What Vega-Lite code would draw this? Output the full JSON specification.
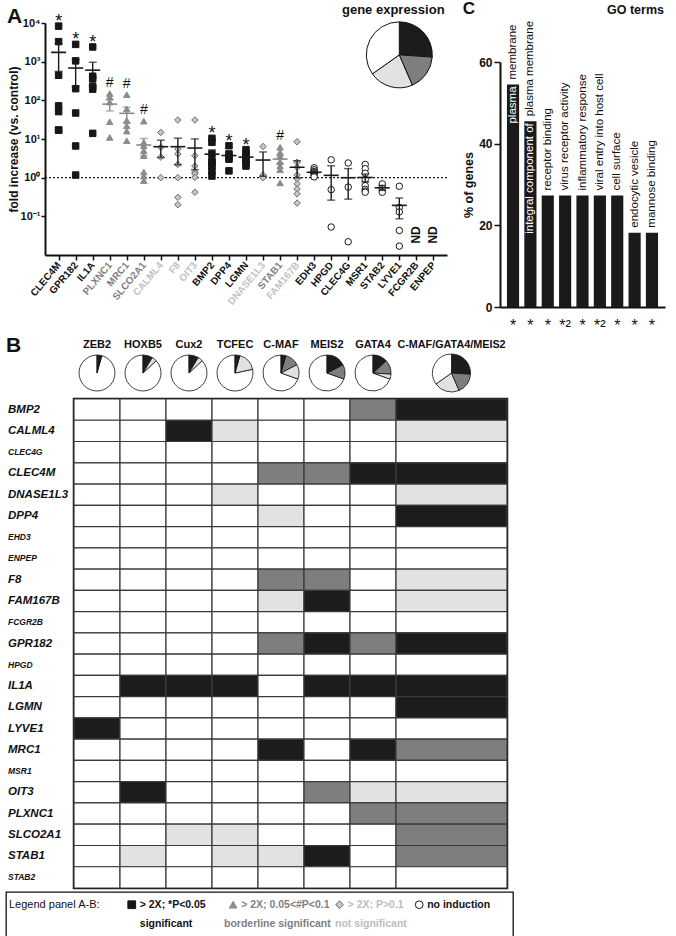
{
"$schema": "https://vega.github.io/schema/vega-lite/v6.json",
"padding": {"left": 5, "top": 0, "right": 2, "bottom": 0},
"background": "white",
"config": {"view": {"stroke": null}, "font": "Liberation Sans", "legend": {"disable": true},
  "axis": {"grid": false, "domainColor": "#111", "tickColor": "#111", "labelColor": "#111", "titleColor": "#111", "labelFont": "Liberation Sans", "titleFont": "Liberation Sans"}},
"resolve": {"scale": {"color": "independent", "fill": "independent", "stroke": "independent", "shape": "independent", "theta": "independent", "size": "independent"}},
"datasets": {
 "pts": [
  {"g":"CLEC4M","c":"sig","v":8300},{"g":"CLEC4M","c":"sig","v":3300},{"g":"CLEC4M","c":"sig","v":445},{"g":"CLEC4M","c":"sig","v":72},{"g":"CLEC4M","c":"sig","v":51},{"g":"CLEC4M","c":"sig","v":17},{"g":"CLEC4M","c":"sig","v":17},
  {"g":"GPR182","c":"sig","v":2800},{"g":"GPR182","c":"sig","v":1050},{"g":"GPR182","c":"sig","v":200},{"g":"GPR182","c":"sig","v":47},{"g":"GPR182","c":"sig","v":6.6},{"g":"GPR182","c":"sig","v":1.17},
  {"g":"IL1A","c":"sig","v":2400},{"g":"IL1A","c":"sig","v":420},{"g":"IL1A","c":"sig","v":360},{"g":"IL1A","c":"sig","v":230},{"g":"IL1A","c":"sig","v":195},{"g":"IL1A","c":"sig","v":14},
  {"g":"PLXNC1","c":"bord","v":150},{"g":"PLXNC1","c":"bord","v":120},{"g":"PLXNC1","c":"bord","v":90},{"g":"PLXNC1","c":"bord","v":28},{"g":"PLXNC1","c":"bord","v":11},
  {"g":"MRC1","c":"bord","v":140},{"g":"MRC1","c":"bord","v":60},{"g":"MRC1","c":"bord","v":30},{"g":"MRC1","c":"bord","v":22},{"g":"MRC1","c":"bord","v":16},{"g":"MRC1","c":"bord","v":9},
  {"g":"SLCO2A1","c":"bord","v":29},{"g":"SLCO2A1","c":"bord","v":8.2},{"g":"SLCO2A1","c":"bord","v":6.7},{"g":"SLCO2A1","c":"bord","v":5},{"g":"SLCO2A1","c":"bord","v":3.7},{"g":"SLCO2A1","c":"bord","v":1.4},{"g":"SLCO2A1","c":"bord","v":1.1},{"g":"SLCO2A1","c":"bord","v":0.84},
  {"g":"CALML4","c":"ns","v":14.8},{"g":"CALML4","c":"ns","v":6.1},{"g":"CALML4","c":"ns","v":3.4},{"g":"CALML4","c":"ns","v":1.0},
  {"g":"F8","c":"ns","v":31},{"g":"F8","c":"ns","v":5.5},{"g":"F8","c":"ns","v":4.1},{"g":"F8","c":"ns","v":2.2},{"g":"F8","c":"ns","v":1.0},{"g":"F8","c":"ns","v":0.31},{"g":"F8","c":"ns","v":0.2},
  {"g":"OIT3","c":"ns","v":31},{"g":"OIT3","c":"ns","v":3.7},{"g":"OIT3","c":"ns","v":2.0},{"g":"OIT3","c":"ns","v":1.4},{"g":"OIT3","c":"ns","v":1.25},{"g":"OIT3","c":"ns","v":1.02},{"g":"OIT3","c":"ns","v":0.42},
  {"g":"BMP2","c":"sig","v":10.4},{"g":"BMP2","c":"sig","v":8.2},{"g":"BMP2","c":"sig","v":4.1},{"g":"BMP2","c":"sig","v":2.7},{"g":"BMP2","c":"sig","v":2.4},{"g":"BMP2","c":"sig","v":2.0},{"g":"BMP2","c":"sig","v":1.5},{"g":"BMP2","c":"sig","v":1.1},
  {"g":"DPP4","c":"sig","v":6.7},{"g":"DPP4","c":"sig","v":4.1},{"g":"DPP4","c":"sig","v":3.4},{"g":"DPP4","c":"sig","v":3.0},{"g":"DPP4","c":"sig","v":1.5},
  {"g":"LGMN","c":"sig","v":5.3},{"g":"LGMN","c":"sig","v":4.1},{"g":"LGMN","c":"sig","v":3.6},{"g":"LGMN","c":"sig","v":3.0},{"g":"LGMN","c":"sig","v":2.4},{"g":"LGMN","c":"sig","v":2.0},
  {"g":"DNASE1L3","c":"ns","v":6.4},{"g":"DNASE1L3","c":"ns","v":1.17},{"g":"DNASE1L3","c":"ns","v":1.0},
  {"g":"STAB1","c":"bord","v":6.1},{"g":"STAB1","c":"bord","v":4.5},{"g":"STAB1","c":"bord","v":3.6},{"g":"STAB1","c":"bord","v":2.6},{"g":"STAB1","c":"bord","v":2.0},{"g":"STAB1","c":"bord","v":1.6},{"g":"STAB1","c":"bord","v":0.73},
  {"g":"FAM167B","c":"ns","v":8.5},{"g":"FAM167B","c":"ns","v":2.5},{"g":"FAM167B","c":"ns","v":1.85},{"g":"FAM167B","c":"ns","v":1.17},{"g":"FAM167B","c":"ns","v":0.93},{"g":"FAM167B","c":"ns","v":0.69},{"g":"FAM167B","c":"ns","v":0.51},{"g":"FAM167B","c":"ns","v":0.38},{"g":"FAM167B","c":"ns","v":0.22},
  {"g":"EDH3","c":"no","v":1.8},{"g":"EDH3","c":"no","v":1.6},{"g":"EDH3","c":"no","v":1.45},{"g":"EDH3","c":"no","v":1.35},{"g":"EDH3","c":"no","v":1.25},{"g":"EDH3","c":"no","v":1.15},{"g":"EDH3","c":"no","v":1.05},
  {"g":"HPGD","c":"no","v":2.9},{"g":"HPGD","c":"no","v":0.49},{"g":"HPGD","c":"no","v":0.053},
  {"g":"CLEC4G","c":"no","v":2.4},{"g":"CLEC4G","c":"no","v":0.57},{"g":"CLEC4G","c":"no","v":0.022},
  {"g":"MSR1","c":"no","v":2.2},{"g":"MSR1","c":"no","v":1.7},{"g":"MSR1","c":"no","v":1.3},{"g":"MSR1","c":"no","v":0.9},{"g":"MSR1","c":"no","v":0.62},{"g":"MSR1","c":"no","v":0.5},{"g":"MSR1","c":"no","v":0.45},{"g":"MSR1","c":"no","v":0.42},
  {"g":"STAB2","c":"no","v":0.69},{"g":"STAB2","c":"no","v":0.53},{"g":"STAB2","c":"no","v":0.42},
  {"g":"LYVE1","c":"no","v":0.6},{"g":"LYVE1","c":"no","v":0.17},{"g":"LYVE1","c":"no","v":0.13},{"g":"LYVE1","c":"no","v":0.043},{"g":"LYVE1","c":"no","v":0.017}
 ],
 "cells": [
  {"g":"BMP2","t":"ZEB2","k":"no"},{"g":"BMP2","t":"HOXB5","k":"no"},{"g":"BMP2","t":"Cux2","k":"no"},{"g":"BMP2","t":"TCFEC","k":"no"},{"g":"BMP2","t":"C-MAF","k":"no"},{"g":"BMP2","t":"MEIS2","k":"no"},{"g":"BMP2","t":"GATA4","k":"bord"},{"g":"BMP2","t":"C-MAF/GATA4/MEIS2","k":"sig"},
  {"g":"CALML4","t":"ZEB2","k":"no"},{"g":"CALML4","t":"HOXB5","k":"no"},{"g":"CALML4","t":"Cux2","k":"sig"},{"g":"CALML4","t":"TCFEC","k":"ns"},{"g":"CALML4","t":"C-MAF","k":"no"},{"g":"CALML4","t":"MEIS2","k":"no"},{"g":"CALML4","t":"GATA4","k":"no"},{"g":"CALML4","t":"C-MAF/GATA4/MEIS2","k":"ns"},
  {"g":"CLEC4G","t":"ZEB2","k":"no"},{"g":"CLEC4G","t":"HOXB5","k":"no"},{"g":"CLEC4G","t":"Cux2","k":"no"},{"g":"CLEC4G","t":"TCFEC","k":"no"},{"g":"CLEC4G","t":"C-MAF","k":"no"},{"g":"CLEC4G","t":"MEIS2","k":"no"},{"g":"CLEC4G","t":"GATA4","k":"no"},{"g":"CLEC4G","t":"C-MAF/GATA4/MEIS2","k":"no"},
  {"g":"CLEC4M","t":"ZEB2","k":"no"},{"g":"CLEC4M","t":"HOXB5","k":"no"},{"g":"CLEC4M","t":"Cux2","k":"no"},{"g":"CLEC4M","t":"TCFEC","k":"no"},{"g":"CLEC4M","t":"C-MAF","k":"bord"},{"g":"CLEC4M","t":"MEIS2","k":"bord"},{"g":"CLEC4M","t":"GATA4","k":"sig"},{"g":"CLEC4M","t":"C-MAF/GATA4/MEIS2","k":"sig"},
  {"g":"DNASE1L3","t":"ZEB2","k":"no"},{"g":"DNASE1L3","t":"HOXB5","k":"no"},{"g":"DNASE1L3","t":"Cux2","k":"no"},{"g":"DNASE1L3","t":"TCFEC","k":"ns"},{"g":"DNASE1L3","t":"C-MAF","k":"no"},{"g":"DNASE1L3","t":"MEIS2","k":"no"},{"g":"DNASE1L3","t":"GATA4","k":"no"},{"g":"DNASE1L3","t":"C-MAF/GATA4/MEIS2","k":"ns"},
  {"g":"DPP4","t":"ZEB2","k":"no"},{"g":"DPP4","t":"HOXB5","k":"no"},{"g":"DPP4","t":"Cux2","k":"no"},{"g":"DPP4","t":"TCFEC","k":"no"},{"g":"DPP4","t":"C-MAF","k":"ns"},{"g":"DPP4","t":"MEIS2","k":"no"},{"g":"DPP4","t":"GATA4","k":"no"},{"g":"DPP4","t":"C-MAF/GATA4/MEIS2","k":"sig"},
  {"g":"EHD3","t":"ZEB2","k":"no"},{"g":"EHD3","t":"HOXB5","k":"no"},{"g":"EHD3","t":"Cux2","k":"no"},{"g":"EHD3","t":"TCFEC","k":"no"},{"g":"EHD3","t":"C-MAF","k":"no"},{"g":"EHD3","t":"MEIS2","k":"no"},{"g":"EHD3","t":"GATA4","k":"no"},{"g":"EHD3","t":"C-MAF/GATA4/MEIS2","k":"no"},
  {"g":"ENPEP","t":"ZEB2","k":"no"},{"g":"ENPEP","t":"HOXB5","k":"no"},{"g":"ENPEP","t":"Cux2","k":"no"},{"g":"ENPEP","t":"TCFEC","k":"no"},{"g":"ENPEP","t":"C-MAF","k":"no"},{"g":"ENPEP","t":"MEIS2","k":"no"},{"g":"ENPEP","t":"GATA4","k":"no"},{"g":"ENPEP","t":"C-MAF/GATA4/MEIS2","k":"no"},
  {"g":"F8","t":"ZEB2","k":"no"},{"g":"F8","t":"HOXB5","k":"no"},{"g":"F8","t":"Cux2","k":"no"},{"g":"F8","t":"TCFEC","k":"no"},{"g":"F8","t":"C-MAF","k":"bord"},{"g":"F8","t":"MEIS2","k":"bord"},{"g":"F8","t":"GATA4","k":"no"},{"g":"F8","t":"C-MAF/GATA4/MEIS2","k":"ns"},
  {"g":"FAM167B","t":"ZEB2","k":"no"},{"g":"FAM167B","t":"HOXB5","k":"no"},{"g":"FAM167B","t":"Cux2","k":"no"},{"g":"FAM167B","t":"TCFEC","k":"no"},{"g":"FAM167B","t":"C-MAF","k":"ns"},{"g":"FAM167B","t":"MEIS2","k":"sig"},{"g":"FAM167B","t":"GATA4","k":"no"},{"g":"FAM167B","t":"C-MAF/GATA4/MEIS2","k":"ns"},
  {"g":"FCGR2B","t":"ZEB2","k":"no"},{"g":"FCGR2B","t":"HOXB5","k":"no"},{"g":"FCGR2B","t":"Cux2","k":"no"},{"g":"FCGR2B","t":"TCFEC","k":"no"},{"g":"FCGR2B","t":"C-MAF","k":"no"},{"g":"FCGR2B","t":"MEIS2","k":"no"},{"g":"FCGR2B","t":"GATA4","k":"no"},{"g":"FCGR2B","t":"C-MAF/GATA4/MEIS2","k":"no"},
  {"g":"GPR182","t":"ZEB2","k":"no"},{"g":"GPR182","t":"HOXB5","k":"no"},{"g":"GPR182","t":"Cux2","k":"no"},{"g":"GPR182","t":"TCFEC","k":"no"},{"g":"GPR182","t":"C-MAF","k":"bord"},{"g":"GPR182","t":"MEIS2","k":"sig"},{"g":"GPR182","t":"GATA4","k":"bord"},{"g":"GPR182","t":"C-MAF/GATA4/MEIS2","k":"sig"},
  {"g":"HPGD","t":"ZEB2","k":"no"},{"g":"HPGD","t":"HOXB5","k":"no"},{"g":"HPGD","t":"Cux2","k":"no"},{"g":"HPGD","t":"TCFEC","k":"no"},{"g":"HPGD","t":"C-MAF","k":"no"},{"g":"HPGD","t":"MEIS2","k":"no"},{"g":"HPGD","t":"GATA4","k":"no"},{"g":"HPGD","t":"C-MAF/GATA4/MEIS2","k":"no"},
  {"g":"IL1A","t":"ZEB2","k":"no"},{"g":"IL1A","t":"HOXB5","k":"sig"},{"g":"IL1A","t":"Cux2","k":"sig"},{"g":"IL1A","t":"TCFEC","k":"sig"},{"g":"IL1A","t":"C-MAF","k":"no"},{"g":"IL1A","t":"MEIS2","k":"sig"},{"g":"IL1A","t":"GATA4","k":"sig"},{"g":"IL1A","t":"C-MAF/GATA4/MEIS2","k":"sig"},
  {"g":"LGMN","t":"ZEB2","k":"no"},{"g":"LGMN","t":"HOXB5","k":"no"},{"g":"LGMN","t":"Cux2","k":"no"},{"g":"LGMN","t":"TCFEC","k":"no"},{"g":"LGMN","t":"C-MAF","k":"no"},{"g":"LGMN","t":"MEIS2","k":"no"},{"g":"LGMN","t":"GATA4","k":"no"},{"g":"LGMN","t":"C-MAF/GATA4/MEIS2","k":"sig"},
  {"g":"LYVE1","t":"ZEB2","k":"sig"},{"g":"LYVE1","t":"HOXB5","k":"no"},{"g":"LYVE1","t":"Cux2","k":"no"},{"g":"LYVE1","t":"TCFEC","k":"no"},{"g":"LYVE1","t":"C-MAF","k":"no"},{"g":"LYVE1","t":"MEIS2","k":"no"},{"g":"LYVE1","t":"GATA4","k":"no"},{"g":"LYVE1","t":"C-MAF/GATA4/MEIS2","k":"no"},
  {"g":"MRC1","t":"ZEB2","k":"no"},{"g":"MRC1","t":"HOXB5","k":"no"},{"g":"MRC1","t":"Cux2","k":"no"},{"g":"MRC1","t":"TCFEC","k":"no"},{"g":"MRC1","t":"C-MAF","k":"sig"},{"g":"MRC1","t":"MEIS2","k":"no"},{"g":"MRC1","t":"GATA4","k":"sig"},{"g":"MRC1","t":"C-MAF/GATA4/MEIS2","k":"bord"},
  {"g":"MSR1","t":"ZEB2","k":"no"},{"g":"MSR1","t":"HOXB5","k":"no"},{"g":"MSR1","t":"Cux2","k":"no"},{"g":"MSR1","t":"TCFEC","k":"no"},{"g":"MSR1","t":"C-MAF","k":"no"},{"g":"MSR1","t":"MEIS2","k":"no"},{"g":"MSR1","t":"GATA4","k":"no"},{"g":"MSR1","t":"C-MAF/GATA4/MEIS2","k":"no"},
  {"g":"OIT3","t":"ZEB2","k":"no"},{"g":"OIT3","t":"HOXB5","k":"sig"},{"g":"OIT3","t":"Cux2","k":"no"},{"g":"OIT3","t":"TCFEC","k":"no"},{"g":"OIT3","t":"C-MAF","k":"no"},{"g":"OIT3","t":"MEIS2","k":"bord"},{"g":"OIT3","t":"GATA4","k":"ns"},{"g":"OIT3","t":"C-MAF/GATA4/MEIS2","k":"ns"},
  {"g":"PLXNC1","t":"ZEB2","k":"no"},{"g":"PLXNC1","t":"HOXB5","k":"no"},{"g":"PLXNC1","t":"Cux2","k":"no"},{"g":"PLXNC1","t":"TCFEC","k":"no"},{"g":"PLXNC1","t":"C-MAF","k":"no"},{"g":"PLXNC1","t":"MEIS2","k":"no"},{"g":"PLXNC1","t":"GATA4","k":"bord"},{"g":"PLXNC1","t":"C-MAF/GATA4/MEIS2","k":"bord"},
  {"g":"SLCO2A1","t":"ZEB2","k":"no"},{"g":"SLCO2A1","t":"HOXB5","k":"no"},{"g":"SLCO2A1","t":"Cux2","k":"ns"},{"g":"SLCO2A1","t":"TCFEC","k":"ns"},{"g":"SLCO2A1","t":"C-MAF","k":"no"},{"g":"SLCO2A1","t":"MEIS2","k":"no"},{"g":"SLCO2A1","t":"GATA4","k":"no"},{"g":"SLCO2A1","t":"C-MAF/GATA4/MEIS2","k":"bord"},
  {"g":"STAB1","t":"ZEB2","k":"no"},{"g":"STAB1","t":"HOXB5","k":"ns"},{"g":"STAB1","t":"Cux2","k":"no"},{"g":"STAB1","t":"TCFEC","k":"ns"},{"g":"STAB1","t":"C-MAF","k":"ns"},{"g":"STAB1","t":"MEIS2","k":"sig"},{"g":"STAB1","t":"GATA4","k":"no"},{"g":"STAB1","t":"C-MAF/GATA4/MEIS2","k":"bord"},
  {"g":"STAB2","t":"ZEB2","k":"no"},{"g":"STAB2","t":"HOXB5","k":"no"},{"g":"STAB2","t":"Cux2","k":"no"},{"g":"STAB2","t":"TCFEC","k":"no"},{"g":"STAB2","t":"C-MAF","k":"no"},{"g":"STAB2","t":"MEIS2","k":"no"},{"g":"STAB2","t":"GATA4","k":"no"},{"g":"STAB2","t":"C-MAF/GATA4/MEIS2","k":"no"}
 ],
 "go": [
  {"term":"plasma membrane","pct":54.5,"outer":"membrane","inner":"plasma"},
  {"term":"integral component of plasma membrane","pct":45.5,"outer":"plasma membrane","inner":"integral component of"},
  {"term":"receptor binding","pct":27.3,"outer":"receptor binding","inner":""},
  {"term":"virus receptor activity","pct":27.3,"outer":"virus receptor activity","inner":""},
  {"term":"inflammatory response","pct":27.3,"outer":"inflammatory response","inner":""},
  {"term":"viral entry into host cell","pct":27.3,"outer":"viral entry into host cell","inner":""},
  {"term":"cell surface","pct":27.3,"outer":"cell surface","inner":""},
  {"term":"endocytic vesicle","pct":18.2,"outer":"endocytic vesicle","inner":""},
  {"term":"mannose binding","pct":18.2,"outer":"mannose binding","inner":""}
 ],
 "leg": [
  {"c":"title","line":1,"txt":"Legend panel A-B:"},
  {"c":"sig","line":1,"txt":"> 2X; *P<0.05"},{"c":"sig","line":2,"txt":"significant"},
  {"c":"bord","line":1,"txt":"> 2X; 0.05<#P<0.1"},{"c":"bord","line":2,"txt":"borderline significant"},
  {"c":"ns","line":1,"txt":"> 2X; P>0.1"},{"c":"ns","line":2,"txt":"not significant"},
  {"c":"no","line":1,"txt":"no induction"}
 ]
},
"concat": [
 {
  "spacing": 0,
  "hconcat": [
   {"width": 1, "height": 1, "data": {"values": []}, "mark": {"type": "point", "opacity": 0}},
   {
    "spacing": 14,
    "hconcat": [
     {
      "width": 402, "height": 232,
      "title": {"text": "A", "anchor": "start", "frame": "bounds", "fontSize": 21, "fontWeight": "bold", "offset": -23, "color": "#111"},
      "layer": [
       {"data": {"values": [{}]}, "mark": {"type": "rule", "strokeDash": [2, 2], "strokeWidth": 1.2, "color": "#111"}, "encoding": {"y": {"datum": 1}}},
       {
        "data": {"name": "pts"},
        "encoding": {
         "x": {"field": "g", "type": "nominal",
          "scale": {"type": "point", "padding": 0.8, "domain": ["CLEC4M","GPR182","IL1A","PLXNC1","MRC1","SLCO2A1","CALML4","F8","OIT3","BMP2","DPP4","LGMN","DNASE1L3","STAB1","FAM167B","EDH3","HPGD","CLEC4G","MSR1","STAB2","LYVE1","FCGR2B","ENPEP"]},
          "axis": {"title": null, "labelAngle": -50, "labelAlign": "right", "labelBaseline": "middle", "labelFontSize": 10, "labelFontWeight": "bold", "labelPadding": 3, "tickSize": 5, "tickWidth": 1.5, "domainWidth": 2,
           "labelColor": {"condition": [{"test": "indexof(['PLXNC1','MRC1','SLCO2A1','STAB1'], datum.value) >= 0", "value": "#7f7f7f"}, {"test": "indexof(['CALML4','F8','OIT3','DNASE1L3','FAM167B'], datum.value) >= 0", "value": "#c2c2c2"}], "value": "#111"}}},
         "y": {"field": "v", "type": "quantitative",
          "scale": {"type": "log", "domain": [0.01, 10000], "nice": false},
          "axis": {"title": "fold increase (vs. control)", "titleFontSize": 12, "titleFontWeight": "bold", "titlePadding": 0, "values": [0.1, 1, 10, 100, 1000, 10000],
           "labelExpr": "datum.value >= 9999 ? '10⁴' : datum.value >= 999 ? '10³' : datum.value >= 99 ? '10²' : datum.value >= 9 ? '10¹' : datum.value >= 0.9 ? '10⁰' : '10⁻¹'",
           "labelFontSize": 11, "labelFontWeight": "bold", "tickSize": 4, "tickWidth": 1.5, "domainWidth": 2, "labelPadding": 1}}
        },
        "layer": [
         {"mark": {"type": "point", "filled": true, "size": 42, "strokeWidth": 1, "opacity": 1},
          "encoding": {
           "shape": {"field": "c", "type": "nominal", "scale": {"domain": ["sig","bord","ns","no"], "range": ["square","triangle-up","diamond","circle"]}},
           "fill": {"field": "c", "type": "nominal", "scale": {"domain": ["sig","bord","ns","no"], "range": ["#161616","#8c8c8c","#c6c6c6","#ffffff"]}},
           "stroke": {"field": "c", "type": "nominal", "scale": {"domain": ["sig","bord","ns","no"], "range": ["#161616","#8c8c8c","#6a6a6a","#1a1a1a"]}}}},
         {"transform": [{"filter": "datum.c != 'bord'"}], "mark": {"type": "errorbar", "extent": "stderr", "ticks": true, "size": 8, "thickness": 1.4, "color": "#1a1a1a"}},
         {"transform": [{"filter": "datum.c == 'bord'"}], "mark": {"type": "errorbar", "extent": "stderr", "ticks": true, "size": 8, "thickness": 1.4, "color": "#8c8c8c"}},
         {"transform": [{"filter": "datum.c != 'bord'"}], "mark": {"type": "tick", "size": 15, "thickness": 1.6, "color": "#1a1a1a"},
          "encoding": {"y": {"aggregate": "mean", "field": "v", "type": "quantitative", "scale": {"type": "log", "domain": [0.01, 10000], "nice": false}}}},
         {"transform": [{"filter": "datum.c == 'bord'"}], "mark": {"type": "tick", "size": 15, "thickness": 1.6, "color": "#8c8c8c"},
          "encoding": {"y": {"aggregate": "mean", "field": "v", "type": "quantitative", "scale": {"type": "log", "domain": [0.01, 10000], "nice": false}}}},
         {"transform": [{"filter": "datum.c == 'sig'"}, {"aggregate": [{"op": "max", "field": "v", "as": "mx"}], "groupby": ["g"]}],
          "mark": {"type": "text", "text": "*", "fontSize": 18, "baseline": "alphabetic", "dy": 1, "color": "#111"},
          "encoding": {"y": {"field": "mx", "type": "quantitative", "scale": {"type": "log", "domain": [0.01, 10000], "nice": false}}}},
         {"transform": [{"filter": "datum.c == 'bord'"}, {"aggregate": [{"op": "max", "field": "v", "as": "mx"}], "groupby": ["g"]}],
          "mark": {"type": "text", "text": "#", "fontSize": 14, "baseline": "alphabetic", "dy": -7, "color": "#111"},
          "encoding": {"y": {"field": "mx", "type": "quantitative", "scale": {"type": "log", "domain": [0.01, 10000], "nice": false}}}}
        ]
       },
       {"data": {"values": [{"g": "FCGR2B", "note": "ND"}, {"g": "ENPEP", "note": "ND"}]},
        "mark": {"type": "text", "angle": 270, "fontWeight": "bold", "fontSize": 12, "baseline": "middle", "color": "#111"},
        "encoding": {"x": {"field": "g", "type": "nominal"}, "y": {"datum": 0.033}, "text": {"field": "note"}}},
       {"data": {"name": "cells"},
        "transform": [{"filter": "datum.t == 'C-MAF/GATA4/MEIS2'"}, {"aggregate": [{"op": "count", "as": "n"}], "groupby": ["k"]}, {"calculate": "indexof(['sig','bord','ns','no'], datum.k)", "as": "ord"}, {"stack": "n", "groupby": [], "offset": "normalize", "sort": [{"field": "ord", "order": "ascending"}], "as": ["t0", "t1"]}],
        "mark": {"type": "arc", "outerRadius": 33, "stroke": "#111", "strokeWidth": 1},
        "encoding": {"x": {"datum": "LYVE1"}, "y": {"datum": 1500, "stack": null},
         "theta": {"field": "t0", "type": "quantitative", "scale": {"domain": [0, 1]}}, "theta2": {"field": "t1"},
         "color": {"field": "k", "type": "nominal", "scale": {"domain": ["sig","bord","ns","no"], "range": ["#1c1c1c","#7d7e80","#e1e2e3","#ffffff"]}}}},
       {"data": {"values": [{"label": "gene expression"}]},
        "mark": {"type": "text", "fontWeight": "bold", "fontSize": 13, "baseline": "middle", "dx": 11, "color": "#111"},
        "encoding": {"x": {"datum": "STAB2"}, "y": {"datum": 22000}, "text": {"field": "label"}}}
      ]
     },
     {
      "width": 165, "height": 284,
      "title": {"text": "C", "anchor": "start", "frame": "bounds", "fontSize": 17, "fontWeight": "bold", "offset": -14, "color": "#111"},
      "layer": [
       {"data": {"name": "go"},
        "encoding": {
         "x": {"field": "term", "type": "nominal", "sort": null, "scale": {"paddingInner": 0.3, "paddingOuter": 0.4},
          "axis": {"title": null, "ticks": false, "labelAngle": 0, "labelFontSize": 16, "labelBaseline": "top", "labelPadding": 10, "domainWidth": 2,
           "labelExpr": "datum.value == 'virus receptor activity' || datum.value == 'viral entry into host cell' ? '*²' : '*'"}},
         "y": {"field": "pct", "type": "quantitative", "scale": {"domain": [0, 60], "range": [284, 39], "nice": false},
          "axis": {"title": "% of genes", "values": [0, 20, 40, 60], "titleFontSize": 12.5, "titleFontWeight": "bold", "titlePadding": 3, "labelFontSize": 12, "labelFontWeight": "bold", "tickSize": 6, "tickWidth": 1.5, "domainWidth": 2, "labelPadding": 2}}
        },
        "layer": [
         {"mark": {"type": "bar", "color": "#1a1a1a"}},
         {"mark": {"type": "text", "angle": 270, "align": "left", "baseline": "middle", "dx": 5, "fontSize": 11.5, "color": "#111"}, "encoding": {"text": {"field": "outer"}}},
         {"mark": {"type": "text", "angle": 270, "align": "right", "baseline": "middle", "dx": -2, "fontSize": 11.5, "color": "#ffffff"}, "encoding": {"text": {"field": "inner"}}}
        ]
       },
       {"data": {"values": [{"label": "GO terms"}]},
        "mark": {"type": "text", "align": "right", "baseline": "middle", "fontWeight": "bold", "fontSize": 12.5, "dx": 12, "color": "#111"},
        "encoding": {"x": {"datum": "mannose binding"}, "y": {"datum": 72.7}, "text": {"field": "label"}}}
      ]
     }
    ]
   }
  ]
 },
 {
  "spacing": 1,
  "vconcat": [
   {
    "spacing": 0,
    "bounds": "flush",
    "hconcat": [
     {"width": 68, "height": 46, "data": {"values": []}, "mark": {"type": "point", "opacity": 0},
      "title": {"text": "B", "anchor": "start", "fontSize": 21, "fontWeight": "bold", "offset": -5.5, "color": "#111"}},
     {"width": 46, "height": 46, "data": {"name": "cells"}, "title": {"text": "ZEB2", "fontSize": 11, "fontWeight": "bold", "offset": 0, "color": "#111"},
      "transform": [{"filter": "datum.t == 'ZEB2'"}, {"calculate": "indexof(['sig','bord','ns','no'], datum.k)", "as": "ord"}],
      "mark": {"type": "arc", "outerRadius": 18, "stroke": "#111", "strokeWidth": 0.8},
      "encoding": {"theta": {"aggregate": "count", "type": "quantitative"}, "order": {"field": "ord", "type": "quantitative"}, "color": {"field": "k", "type": "nominal", "scale": {"domain": ["sig","bord","ns","no"], "range": ["#1c1c1c","#7d7e80","#e1e2e3","#ffffff"]}}}},
     {"width": 46, "height": 46, "data": {"name": "cells"}, "title": {"text": "HOXB5", "fontSize": 11, "fontWeight": "bold", "offset": 0, "color": "#111"},
      "transform": [{"filter": "datum.t == 'HOXB5'"}, {"calculate": "indexof(['sig','bord','ns','no'], datum.k)", "as": "ord"}],
      "mark": {"type": "arc", "outerRadius": 18, "stroke": "#111", "strokeWidth": 0.8},
      "encoding": {"theta": {"aggregate": "count", "type": "quantitative"}, "order": {"field": "ord", "type": "quantitative"}, "color": {"field": "k", "type": "nominal", "scale": {"domain": ["sig","bord","ns","no"], "range": ["#1c1c1c","#7d7e80","#e1e2e3","#ffffff"]}}}},
     {"width": 46, "height": 46, "data": {"name": "cells"}, "title": {"text": "Cux2", "fontSize": 11, "fontWeight": "bold", "offset": 0, "color": "#111"},
      "transform": [{"filter": "datum.t == 'Cux2'"}, {"calculate": "indexof(['sig','bord','ns','no'], datum.k)", "as": "ord"}],
      "mark": {"type": "arc", "outerRadius": 18, "stroke": "#111", "strokeWidth": 0.8},
      "encoding": {"theta": {"aggregate": "count", "type": "quantitative"}, "order": {"field": "ord", "type": "quantitative"}, "color": {"field": "k", "type": "nominal", "scale": {"domain": ["sig","bord","ns","no"], "range": ["#1c1c1c","#7d7e80","#e1e2e3","#ffffff"]}}}},
     {"width": 46, "height": 46, "data": {"name": "cells"}, "title": {"text": "TCFEC", "fontSize": 11, "fontWeight": "bold", "offset": 0, "color": "#111"},
      "transform": [{"filter": "datum.t == 'TCFEC'"}, {"calculate": "indexof(['sig','bord','ns','no'], datum.k)", "as": "ord"}],
      "mark": {"type": "arc", "outerRadius": 18, "stroke": "#111", "strokeWidth": 0.8},
      "encoding": {"theta": {"aggregate": "count", "type": "quantitative"}, "order": {"field": "ord", "type": "quantitative"}, "color": {"field": "k", "type": "nominal", "scale": {"domain": ["sig","bord","ns","no"], "range": ["#1c1c1c","#7d7e80","#e1e2e3","#ffffff"]}}}},
     {"width": 46, "height": 46, "data": {"name": "cells"}, "title": {"text": "C-MAF", "fontSize": 11, "fontWeight": "bold", "offset": 0, "color": "#111"},
      "transform": [{"filter": "datum.t == 'C-MAF'"}, {"calculate": "indexof(['sig','bord','ns','no'], datum.k)", "as": "ord"}],
      "mark": {"type": "arc", "outerRadius": 18, "stroke": "#111", "strokeWidth": 0.8},
      "encoding": {"theta": {"aggregate": "count", "type": "quantitative"}, "order": {"field": "ord", "type": "quantitative"}, "color": {"field": "k", "type": "nominal", "scale": {"domain": ["sig","bord","ns","no"], "range": ["#1c1c1c","#7d7e80","#e1e2e3","#ffffff"]}}}},
     {"width": 46, "height": 46, "data": {"name": "cells"}, "title": {"text": "MEIS2", "fontSize": 11, "fontWeight": "bold", "offset": 0, "color": "#111"},
      "transform": [{"filter": "datum.t == 'MEIS2'"}, {"calculate": "indexof(['sig','bord','ns','no'], datum.k)", "as": "ord"}],
      "mark": {"type": "arc", "outerRadius": 18, "stroke": "#111", "strokeWidth": 0.8},
      "encoding": {"theta": {"aggregate": "count", "type": "quantitative"}, "order": {"field": "ord", "type": "quantitative"}, "color": {"field": "k", "type": "nominal", "scale": {"domain": ["sig","bord","ns","no"], "range": ["#1c1c1c","#7d7e80","#e1e2e3","#ffffff"]}}}},
     {"width": 46, "height": 46, "data": {"name": "cells"}, "title": {"text": "GATA4", "fontSize": 11, "fontWeight": "bold", "offset": 0, "color": "#111"},
      "transform": [{"filter": "datum.t == 'GATA4'"}, {"calculate": "indexof(['sig','bord','ns','no'], datum.k)", "as": "ord"}],
      "mark": {"type": "arc", "outerRadius": 18, "stroke": "#111", "strokeWidth": 0.8},
      "encoding": {"theta": {"aggregate": "count", "type": "quantitative"}, "order": {"field": "ord", "type": "quantitative"}, "color": {"field": "k", "type": "nominal", "scale": {"domain": ["sig","bord","ns","no"], "range": ["#1c1c1c","#7d7e80","#e1e2e3","#ffffff"]}}}},
     {"width": 111, "height": 46, "data": {"name": "cells"}, "title": {"text": "C-MAF/GATA4/MEIS2", "fontSize": 10.8, "fontWeight": "bold", "offset": 0, "color": "#111"},
      "transform": [{"filter": "datum.t == 'C-MAF/GATA4/MEIS2'"}, {"calculate": "indexof(['sig','bord','ns','no'], datum.k)", "as": "ord"}],
      "mark": {"type": "arc", "outerRadius": 19, "stroke": "#111", "strokeWidth": 0.8},
      "encoding": {"theta": {"aggregate": "count", "type": "quantitative"}, "order": {"field": "ord", "type": "quantitative"}, "color": {"field": "k", "type": "nominal", "scale": {"domain": ["sig","bord","ns","no"], "range": ["#1c1c1c","#7d7e80","#e1e2e3","#ffffff"]}}}}
    ]
   },
   {
    "spacing": 0,
    "bounds": "flush",
    "hconcat": [
     {"width": 68, "height": 489, "data": {"name": "cells"},
      "transform": [{"filter": "datum.t == 'ZEB2'"}],
      "mark": {"type": "text", "align": "left", "baseline": "middle", "fontWeight": "bold", "fontStyle": "italic", "dx": 2, "color": "#111"},
      "encoding": {
       "y": {"field": "g", "type": "nominal", "scale": {"domain": ["BMP2","CALML4","CLEC4G","CLEC4M","DNASE1L3","DPP4","EHD3","ENPEP","F8","FAM167B","FCGR2B","GPR182","HPGD","IL1A","LGMN","LYVE1","MRC1","MSR1","OIT3","PLXNC1","SLCO2A1","STAB1","STAB2"], "paddingInner": 0, "paddingOuter": 0}, "axis": null},
       "x": {"datum": 0, "type": "quantitative", "scale": {"domain": [0, 1]}, "axis": null},
       "text": {"field": "g"},
       "size": {"condition": {"test": "indexof(['CLEC4G','EHD3','ENPEP','FCGR2B','HPGD','MSR1','STAB2'], datum.g) >= 0", "value": 8.5}, "value": 11.5}}},
     {
      "width": 433, "height": 489,
      "data": {"name": "cells"},
      "view": {"stroke": "#111", "strokeWidth": 2.5},
      "encoding": {
       "y": {"field": "g", "type": "nominal",
        "scale": {"domain": ["BMP2","CALML4","CLEC4G","CLEC4M","DNASE1L3","DPP4","EHD3","ENPEP","F8","FAM167B","FCGR2B","GPR182","HPGD","IL1A","LGMN","LYVE1","MRC1","MSR1","OIT3","PLXNC1","SLCO2A1","STAB1","STAB2"], "paddingInner": 0, "paddingOuter": 0},
        "axis": null},
       "color": {"field": "k", "type": "nominal", "scale": {"domain": ["sig","bord","ns","no"], "range": ["#1c1c1c","#7d7e80","#e1e2e3","#ffffff"]}}
      },
      "layer": [
       {"transform": [{"filter": "datum.t != 'C-MAF/GATA4/MEIS2'"}], "mark": {"type": "rect", "stroke": "#3a3a3a", "strokeWidth": 1.2},
        "encoding": {"x": {"field": "t", "type": "nominal", "scale": {"domain": ["ZEB2","HOXB5","Cux2","TCFEC","C-MAF","MEIS2","GATA4"], "range": [0, 322], "paddingInner": 0, "paddingOuter": 0}, "axis": null}}},
       {"transform": [{"filter": "datum.t == 'C-MAF/GATA4/MEIS2'"}], "mark": {"type": "rect", "stroke": "#3a3a3a", "strokeWidth": 1.2},
        "encoding": {"x": {"field": "t", "type": "nominal", "scale": {"domain": ["C-MAF/GATA4/MEIS2"], "range": [322, 433], "paddingInner": 0, "paddingOuter": 0}, "axis": null}}}
      ],
      "resolve": {"scale": {"x": "independent"}}
     }
    ]
   }
  ]
 },
 {
  "width": 507, "height": 45,
  "view": {"stroke": "#111", "strokeWidth": 1.3},
  "data": {"name": "leg"},
  "encoding": {"y": {"field": "line", "type": "ordinal", "scale": {"type": "band", "domain": [1, 2], "paddingInner": 0, "paddingOuter": 0.15}, "axis": null}},
  "layer": [
   {"transform": [{"filter": "datum.c == 'title'"}], "mark": {"type": "text", "align": "left", "baseline": "middle", "fontSize": 11, "dx": 3, "color": "#111"},
    "encoding": {"x": {"field": "c", "type": "nominal", "bandPosition": 0, "scale": {"type": "band", "domain": ["title","sig","bord","ns","no"], "paddingInner": 0, "paddingOuter": 0}, "axis": null}, "text": {"field": "txt"}}},
   {"transform": [{"filter": "(datum.c == 'sig' || datum.c == 'bord') && datum.line == 1"}], "mark": {"type": "point", "filled": true, "size": 60, "strokeWidth": 1, "opacity": 1},
    "encoding": {"x": {"field": "c", "type": "nominal", "bandPosition": 0.24, "scale": {"type": "band", "domain": ["title","sig","bord","ns","no"], "paddingInner": 0, "paddingOuter": 0}, "axis": null},
     "shape": {"field": "c", "type": "nominal", "scale": {"domain": ["sig","bord","ns","no"], "range": ["square","triangle-up","diamond","circle"]}},
     "fill": {"field": "c", "type": "nominal", "scale": {"domain": ["sig","bord","ns","no"], "range": ["#161616","#8c8c8c","#c6c6c6","#ffffff"]}},
     "stroke": {"field": "c", "type": "nominal", "scale": {"domain": ["sig","bord","ns","no"], "range": ["#161616","#8c8c8c","#6a6a6a","#1a1a1a"]}}}},
   {"transform": [{"filter": "datum.c == 'ns' && datum.line == 1"}], "mark": {"type": "point", "filled": true, "size": 60, "strokeWidth": 1, "opacity": 1},
    "encoding": {"x": {"field": "c", "type": "nominal", "bandPosition": 0.29, "scale": {"type": "band", "domain": ["title","sig","bord","ns","no"], "paddingInner": 0, "paddingOuter": 0}, "axis": null},
     "shape": {"field": "c", "type": "nominal", "scale": {"domain": ["sig","bord","ns","no"], "range": ["square","triangle-up","diamond","circle"]}},
     "fill": {"field": "c", "type": "nominal", "scale": {"domain": ["sig","bord","ns","no"], "range": ["#161616","#8c8c8c","#c6c6c6","#ffffff"]}},
     "stroke": {"field": "c", "type": "nominal", "scale": {"domain": ["sig","bord","ns","no"], "range": ["#161616","#8c8c8c","#6a6a6a","#1a1a1a"]}}}},
   {"transform": [{"filter": "datum.c == 'no' && datum.line == 1"}], "mark": {"type": "point", "filled": true, "size": 60, "strokeWidth": 1, "opacity": 1},
    "encoding": {"x": {"field": "c", "type": "nominal", "bandPosition": 0.075, "scale": {"type": "band", "domain": ["title","sig","bord","ns","no"], "paddingInner": 0, "paddingOuter": 0}, "axis": null},
     "shape": {"field": "c", "type": "nominal", "scale": {"domain": ["sig","bord","ns","no"], "range": ["square","triangle-up","diamond","circle"]}},
     "fill": {"field": "c", "type": "nominal", "scale": {"domain": ["sig","bord","ns","no"], "range": ["#161616","#8c8c8c","#c6c6c6","#ffffff"]}},
     "stroke": {"field": "c", "type": "nominal", "scale": {"domain": ["sig","bord","ns","no"], "range": ["#161616","#8c8c8c","#6a6a6a","#1a1a1a"]}}}},
   {"transform": [{"filter": "(datum.c == 'sig' || datum.c == 'bord') && datum.line == 1"}], "mark": {"type": "text", "align": "left", "baseline": "middle", "fontSize": 10.5, "fontWeight": "bold", "dx": 8},
    "encoding": {"x": {"field": "c", "type": "nominal", "bandPosition": 0.24, "scale": {"type": "band", "domain": ["title","sig","bord","ns","no"], "paddingInner": 0, "paddingOuter": 0}, "axis": null}, "text": {"field": "txt"},
     "color": {"field": "c", "type": "nominal", "scale": {"domain": ["sig","bord","ns","no"], "range": ["#111111","#7f7f7f","#bdbdbd","#111111"]}}}},
   {"transform": [{"filter": "datum.c == 'ns' && datum.line == 1"}], "mark": {"type": "text", "align": "left", "baseline": "middle", "fontSize": 10.5, "fontWeight": "bold", "dx": 8},
    "encoding": {"x": {"field": "c", "type": "nominal", "bandPosition": 0.29, "scale": {"type": "band", "domain": ["title","sig","bord","ns","no"], "paddingInner": 0, "paddingOuter": 0}, "axis": null}, "text": {"field": "txt"},
     "color": {"field": "c", "type": "nominal", "scale": {"domain": ["sig","bord","ns","no"], "range": ["#111111","#7f7f7f","#bdbdbd","#111111"]}}}},
   {"transform": [{"filter": "datum.c == 'no' && datum.line == 1"}], "mark": {"type": "text", "align": "left", "baseline": "middle", "fontSize": 10.5, "fontWeight": "bold", "dx": 8},
    "encoding": {"x": {"field": "c", "type": "nominal", "bandPosition": 0.075, "scale": {"type": "band", "domain": ["title","sig","bord","ns","no"], "paddingInner": 0, "paddingOuter": 0}, "axis": null}, "text": {"field": "txt"},
     "color": {"field": "c", "type": "nominal", "scale": {"domain": ["sig","bord","ns","no"], "range": ["#111111","#7f7f7f","#bdbdbd","#111111"]}}}},
   {"transform": [{"filter": "datum.c == 'sig' && datum.line == 2"}], "mark": {"type": "text", "align": "left", "baseline": "middle", "fontSize": 10.5, "fontWeight": "bold"},
    "encoding": {"x": {"field": "c", "type": "nominal", "bandPosition": 0.32, "scale": {"type": "band", "domain": ["title","sig","bord","ns","no"], "paddingInner": 0, "paddingOuter": 0}, "axis": null}, "text": {"field": "txt"},
     "color": {"field": "c", "type": "nominal", "scale": {"domain": ["sig","bord","ns","no"], "range": ["#111111","#7f7f7f","#bdbdbd","#111111"]}}}},
   {"transform": [{"filter": "datum.c == 'bord' && datum.line == 2"}], "mark": {"type": "text", "align": "left", "baseline": "middle", "fontSize": 10.5, "fontWeight": "bold"},
    "encoding": {"x": {"field": "c", "type": "nominal", "bandPosition": 0.15, "scale": {"type": "band", "domain": ["title","sig","bord","ns","no"], "paddingInner": 0, "paddingOuter": 0}, "axis": null}, "text": {"field": "txt"},
     "color": {"field": "c", "type": "nominal", "scale": {"domain": ["sig","bord","ns","no"], "range": ["#111111","#7f7f7f","#bdbdbd","#111111"]}}}},
   {"transform": [{"filter": "datum.c == 'ns' && datum.line == 2"}], "mark": {"type": "text", "align": "left", "baseline": "middle", "fontSize": 10.5, "fontWeight": "bold"},
    "encoding": {"x": {"field": "c", "type": "nominal", "bandPosition": 0.245, "scale": {"type": "band", "domain": ["title","sig","bord","ns","no"], "paddingInner": 0, "paddingOuter": 0}, "axis": null}, "text": {"field": "txt"},
     "color": {"field": "c", "type": "nominal", "scale": {"domain": ["sig","bord","ns","no"], "range": ["#111111","#7f7f7f","#bdbdbd","#111111"]}}}}
  ]
 }
],
"columns": 1,
"spacing": 1
}
